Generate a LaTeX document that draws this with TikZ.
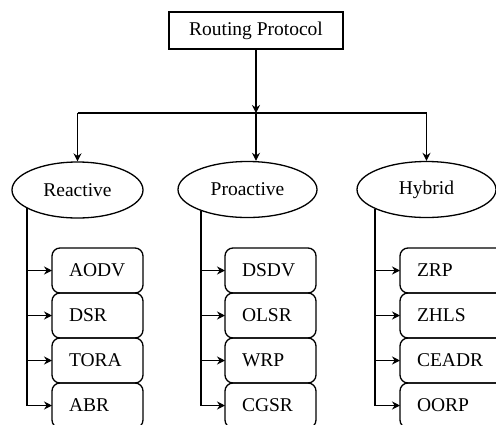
\documentclass[tikz,border=0pt]{standalone}
\usepackage{fontspec}
\setmainfont{Liberation Serif}
\usetikzlibrary{positioning,shapes.geometric,arrows.meta}

\tikzset{
  head/.style={draw, line width=1.3pt, minimum width=174pt, minimum height=37pt, inner sep=0pt},
  kind/.style={draw, ellipse, line width=1.3pt, minimum height=56pt, inner sep=0pt},
  proto/.style={draw, line width=1.3pt, rounded corners=8pt, minimum height=45pt, text width=57pt,
    inner xsep=17pt, inner ysep=0pt, outer sep=0pt, align=left},
  link/.style={line width=1.8pt, -{Stealth[length=8pt,width=8pt]}},
}

\begin{document}
\begin{tikzpicture}[x=1pt, y=-1pt, font=\fontsize{19.5}{22}\selectfont]
    \useasboundingbox (0,0) rectangle (496,424);
    \clip (0,0) rectangle (496,424);
    % The root box and the three classes.
        \node[head] (root) at (256,30.5) {Routing Protocol};
        \node[kind, minimum width=131pt] (reactive) at (77.5,190) {Reactive};
        \node[kind, minimum width=139pt] (proactive) at (247.5,189.5) {Proactive};
        \node[kind, minimum width=139pt] (hybrid) at (426.5,189.5) {Hybrid};
    % Reactive protocols, stacked one under the other.
        \node[proto, anchor=west] (aodv) at (52,270.5) {AODV};
        \node[proto, below=0pt of aodv] (dsr) {DSR};
        \node[proto, below=0pt of dsr] (tora) {TORA};
        \node[proto, below=0pt of tora] (abr) {ABR};
    % Proactive protocols.
        \node[proto, anchor=west] (dsdv) at (225,270.5) {DSDV};
        \node[proto, below=0pt of dsdv] (olsr) {OLSR};
        \node[proto, below=0pt of olsr] (wrp) {WRP};
        \node[proto, below=0pt of wrp] (cgsr) {CGSR};
    % Hybrid protocols, these run off the right side.
        \node[proto, text width=80pt, anchor=west] (zrp) at (400,270.5) {ZRP};
        \node[proto, text width=80pt, below=0pt of zrp] (zhls) {ZHLS};
        \node[proto, text width=80pt, below=0pt of zhls] (ceadr) {CEADR};
        \node[proto, text width=80pt, below=0pt of ceadr] (oorp) {OORP};
    % This draws the split from the root down to each class.
        \coordinate (split) at (256,113);
        \draw[link] (root) -- (split);
        \draw[line width=1.8pt] (reactive.north |- split) -- (hybrid.north |- split);
        \draw[link] (reactive.north |- split) -- (reactive.north);
        \draw[link] (split) -- (split |- proactive.north);
        \draw[link] (hybrid.north |- split) -- (hybrid.north);
    % Branch lines out of each ellipse with an arrow to every box.
        \draw[link] (reactive.200) |- (abr.west);
        \draw[link] (reactive.200 |- aodv.west) -- (aodv.west);
        \draw[link] (reactive.200 |- dsr.west) -- (dsr.west);
        \draw[link] (reactive.200 |- tora.west) -- (tora.west);
        \draw[link] (proactive.205) |- (cgsr.west);
        \draw[link] (proactive.205 |- dsdv.west) -- (dsdv.west);
        \draw[link] (proactive.205 |- olsr.west) -- (olsr.west);
        \draw[link] (proactive.205 |- wrp.west) -- (wrp.west);
        \draw[link] (hybrid.201) |- (oorp.west);
        \draw[link] (hybrid.201 |- zrp.west) -- (zrp.west);
        \draw[link] (hybrid.201 |- zhls.west) -- (zhls.west);
        \draw[link] (hybrid.201 |- ceadr.west) -- (ceadr.west);
\end{tikzpicture}
\end{document}
